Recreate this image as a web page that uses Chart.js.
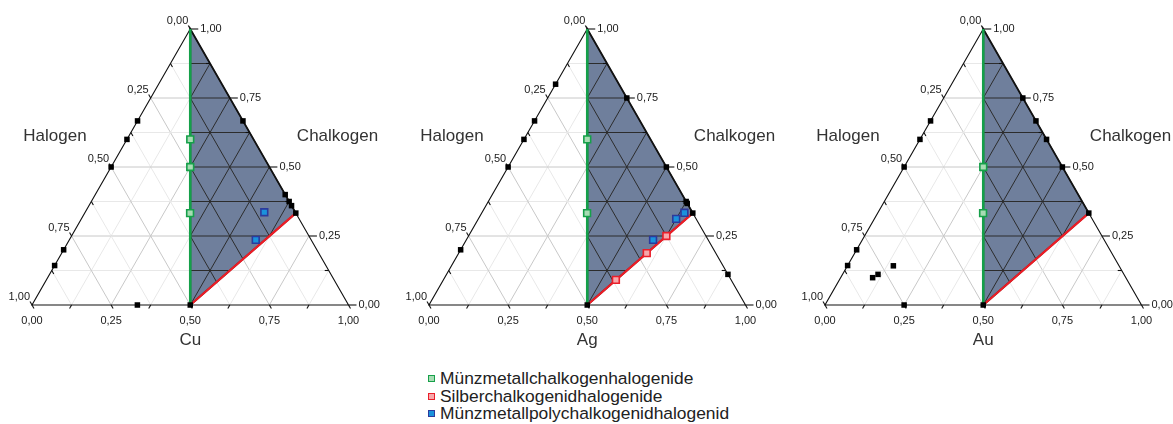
<!DOCTYPE html>
<html><head><meta charset="utf-8">
<script src="https://cdn.jsdelivr.net/npm/chart.js@4.4.0/dist/chart.umd.min.js"></script>
<style>
html,body{margin:0;padding:0;background:#fff;overflow:hidden;width:1173px;height:424px;position:relative}
canvas{position:absolute;top:0;}
#legend{position:absolute;left:428px;top:370px;font-family:"Liberation Sans",Arial,sans-serif;font-size:17.4px;color:#222;}
.row{display:flex;align-items:center;height:17.5px;white-space:nowrap}
.sq{width:5px;height:5px;border:1.6px solid;margin-right:5px;flex:none}
</style></head><body>
<canvas id="c1" width="396" height="352" style="left:0px"></canvas>
<canvas id="c2" width="396" height="352" style="left:397px"></canvas>
<canvas id="c3" width="396" height="352" style="left:793px"></canvas>
<div id="legend"></div>
<script>
// Ternary data: each point = [metal fraction, chalkogen fraction]; halogen = 1 - metal - chalkogen
const tickLabels = ['0,00','0,25','0,50','0,75','1,00'];
const metalNames = ['Cu','Ag','Au'];
const leftAxisName = 'Halogen';
const rightAxisName = 'Chalkogen';
const legendNames = ['Münzmetallchalkogenhalogenide','Silberchalkogenidhalogenide','Münzmetallpolychalkogenidhalogenid'];

const cuBlack = [[0,0.667],[0,0.6],[0,0.5],[0,0.2],[0,0.143],[0.333,0],[0.5,0],[0.333,0.667],[0.6,0.4],[0.625,0.375],[0.64,0.36],[0.667,0.333]];
const cuGreen = [[0.2,0.6],[0.25,0.5],[0.333,0.333]];
const cuRed = [];
const cuBlue = [[0.566,0.336],[0.589,0.236]];

const agBlack = [[0,0.8],[0,0.667],[0,0.6],[0,0.5],[0,0.2],[0.5,0],[0.25,0.75],[0.5,0.5],[0.625,0.375],[0.632,0.368],[0.667,0.333],[0.889,0.111]];
const agGreen = [[0.2,0.6],[0.333,0.333]];
const agRed = [[0.625,0.25],[0.594,0.188],[0.545,0.091]];
const agBlue = [[0.64,0.334],[0.625,0.312],[0.59,0.236]];

const auBlack = [[0,0.667],[0,0.6],[0,0.5],[0,0.2],[0,0.143],[0.145,0.142],[0.112,0.111],[0.101,0.099],[0.25,0],[0.5,0],[0.25,0.75],[0.333,0.667],[0.4,0.6],[0.5,0.5],[0.667,0.333]];
const auGreen = [[0.25,0.5],[0.333,0.333]];
const auRed = [];
const auBlue = [];

const greenLine = [[0,1],[0.5,0]];
const redLine = [[0.5,0],[0.667,0.333]];
const shadedRegion = [[0,1],[0.5,0],[0.667,0.333]];

const toXY = p => ({x: p[0] + p[1]/2, y: p[1]});
const FONT = '"Liberation Sans", Arial, sans-serif';

const ternaryPlugin = {
  id: 'ternary',
  beforeDatasetsDraw(chart) {
    const ctx = chart.ctx, sx = chart.scales.x, sy = chart.scales.y;
    const P = (m, c) => [sx.getPixelForValue(m + c/2), sy.getPixelForValue(c)];
    const seg = (a, b) => { ctx.beginPath(); ctx.moveTo(a[0], a[1]); ctx.lineTo(b[0], b[1]); ctx.stroke(); };
    const grid = (maj, min) => {
      for (let k = 1; k < 8; k++) {
        const t = k/8;
        ctx.strokeStyle = (k % 2) ? min : maj;
        seg(P(0,t), P(1-t,t));
        seg(P(0,1-t), P(1-t,0));
        seg(P(t,0), P(t,1-t));
      }
    };
    ctx.save();
    ctx.lineWidth = 1;
    grid('#c8c8c8', '#e8e8e8');
    const poly = () => { ctx.beginPath(); shadedRegion.forEach((p,i) => { const q = P(p[0], p[1]); i ? ctx.lineTo(q[0], q[1]) : ctx.moveTo(q[0], q[1]); }); ctx.closePath(); };
    poly();
    ctx.fillStyle = '#6f7f9c';
    ctx.fill();
    ctx.save(); poly(); ctx.clip(); ctx.lineWidth = 1; grid('#2c2c2c', '#2c2c2c'); ctx.restore();
    poly(); ctx.strokeStyle = '#1a1a1a'; ctx.lineWidth = 1.8; ctx.stroke();
    const A = P(0,1), BL = P(0,0), BR = P(1,0);
    ctx.strokeStyle = '#111'; ctx.lineWidth = 1.1;
    ctx.beginPath(); ctx.moveTo(A[0],A[1]); ctx.lineTo(BL[0],BL[1]); ctx.lineTo(BR[0],BR[1]); ctx.closePath(); ctx.stroke();
    const c30 = 0.5, s60 = Math.sqrt(3)/2;
    for (let k = 0; k <= 8; k++) {
      const t = k/8, major = (k % 2 === 0);
      let q = P(1-t, t);
      if (major) seg(q, [q[0]+8, q[1]]); else seg(q, [q[0]-4, q[1]]);
      q = P(0, 1-t);
      if (major) seg(q, [q[0]-4*c30, q[1]-4*s60]); else seg(q, [q[0]+4*c30, q[1]+4*s60]);
      q = P(t, 0);
      if (major) seg(q, [q[0]+4*c30, q[1]+4*s60]); else seg(q, [q[0]-4*c30, q[1]+4*s60]);
    }
    ctx.fillStyle = '#1a1a1a';
    ctx.font = '11px ' + FONT;
    ctx.textBaseline = 'middle';
    for (let i = 0; i < 5; i++) {
      const t = i/4;
      let q = P(0, 1-t);
      ctx.textAlign = 'right'; ctx.fillText(tickLabels[i], q[0]-2, q[1]-8);
      q = P(1-t, t);
      ctx.textAlign = 'left'; ctx.fillText(tickLabels[i], q[0]+10, q[1]);
      q = P(t, 0);
      ctx.textAlign = 'center'; ctx.fillText(tickLabels[i], q[0], q[1]+16);
    }
    ctx.fillStyle = '#333';
    ctx.font = '17px ' + FONT;
    ctx.textAlign = 'center';
    ctx.fillText(leftAxisName, BL[0]+23, 136);
    ctx.fillText(rightAxisName, BR[0]-11, 136);
    ctx.fillText(chart.options.plugins.ternary.metal, (BL[0]+BR[0])/2, 340);
    ctx.restore();
  }
};

const BLACK = {bg:'#000', bd:'#000', r:3.9, bw:0};
const GREEN = {bg:'#a8dcb4', bd:'#16a04a', r:4.8, bw:1.6};
const RED = {bg:'#f7a8ab', bd:'#ea1f2a', r:4.8, bw:1.6};
const BLUE = {bg:'#1a92dc', bd:'#2c3a9c', r:4.8, bw:1.6};

function pts(arr, st) {
  return {data: arr.map(toXY), pointStyle:'rect', pointRadius: st.r, pointBackgroundColor: st.bg,
          pointBorderColor: st.bd, pointBorderWidth: st.bw, showLine:false, clip:false};
}
function lineDs(arr, color, w) {
  return {data: arr.map(toXY), showLine:true, borderColor: color, borderWidth: w, pointRadius:0, clip:false, fill:false};
}

function makeChart(id, metal, black, green, red, blue) {
  new Chart(document.getElementById(id), {
    type: 'scatter',
    data: {datasets: [pts(black, BLACK), pts(blue, BLUE), pts(red, RED), pts(green, GREEN),
                      lineDs(redLine, '#ee1c25', 2.2), lineDs(greenLine, '#14a049', 2.6)]},
    options: {
      responsive:false, animation:false, devicePixelRatio:1,
      layout:{padding:{left:32, right:47.5, top:29, bottom:47}},
      scales:{x:{type:'linear', min:0, max:1, display:false}, y:{type:'linear', min:0, max:1, display:false}},
      plugins:{legend:{display:false}, tooltip:{enabled:false}, ternary:{metal: metal}}
    },
    plugins:[ternaryPlugin]
  });
}
makeChart('c1', metalNames[0], cuBlack, cuGreen, cuRed, cuBlue);
makeChart('c2', metalNames[1], agBlack, agGreen, agRed, agBlue);
makeChart('c3', metalNames[2], auBlack, auGreen, auRed, auBlue);

const lg = document.getElementById('legend');
[GREEN, RED, BLUE].forEach((st, i) => {
  const row = document.createElement('div'); row.className = 'row';
  const sq = document.createElement('span'); sq.className = 'sq';
  sq.style.background = st.bg; sq.style.borderColor = st.bd;
  const tx = document.createElement('span'); tx.textContent = legendNames[i];
  row.appendChild(sq); row.appendChild(tx); lg.appendChild(row);
});
</script>
</body></html>
